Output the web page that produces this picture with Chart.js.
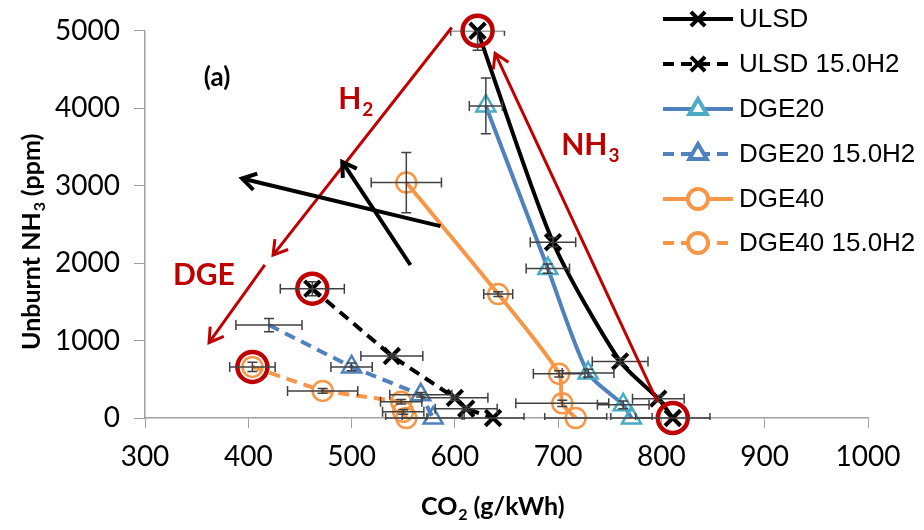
<!DOCTYPE html>
<html>
<head>
<meta charset="utf-8">
<script src="https://cdn.jsdelivr.net/npm/chart.js@4.4.1/dist/chart.umd.min.js"></script>
<style>
  html, body { margin: 0; padding: 0; background: #fff; }
  #wrap { width: 924px; height: 530px; }
</style>
</head>
<body>
<div id="wrap"><canvas id="chart" width="924" height="530"></canvas></div>
<script>
// ===============================
// DATA
// ===============================
const seriesNames = ["ULSD", "ULSD 15.0H2", "DGE20", "DGE20 15.0H2", "DGE40", "DGE40 15.0H2"];

const ulsdX = [622, 695, 760, 797, 811];
const ulsdY = [5000, 2270, 730, 250, 0];
const ulsdXErr = [26, 22, 27, 25, 36];
const ulsdYErr = [250, 60, 40, 40, 0];

const ulsdH2X = [462, 539, 600, 611, 637];
const ulsdH2Y = [1670, 800, 260, 120, 0];
const ulsdH2XErr = [31, 30, 32, 30, 30];
const ulsdH2YErr = [90, 30, 30, 30, 0];

const dge20X = [630, 690, 729, 763, 771];
const dge20Y = [4030, 1930, 580, 170, 0];
const dge20XErr = [16, 21, 25, 25, 20];
const dge20YErr = [360, 60, 50, 50, 0];

const dge20H2X = [420, 500, 567, 579];
const dge20H2Y = [1200, 660, 300, 0];
const dge20H2XErr = [32, 20, 30, 30];
const dge20H2YErr = [85, 50, 30, 0];

const dge40X = [553, 642, 701, 704, 717];
const dge40Y = [3040, 1600, 570, 190, 0];
const dge40XErr = [34, 14, 25, 45, 30];
const dge40YErr = [390, 30, 40, 40, 0];

const dge40H2X = [404, 472, 548, 550, 553];
const dge40H2Y = [660, 350, 210, 80, 0];
const dge40H2XErr = [22, 34, 20, 20, 20];
const dge40H2YErr = [60, 30, 30, 30, 0];

// points ringed in red
const ringX = [622, 462, 404, 811];
const ringY = [5000, 1670, 660, 0];

const xTicks = [300, 400, 500, 600, 700, 800, 900, 1000];
const yTicks = [0, 1000, 2000, 3000, 4000, 5000];

// ===============================
// HELPERS
// ===============================
const RED = "#c00000";
const BLACK = "#000000";
const BLUE = "#4f81bd";
const TEAL = "#4bacc6";
const ORANGE = "#f79646";

function pts(xs, ys) {
  return xs.map((x, i) => ({ x: x, y: ys[i] }));
}

function series(i, xs, ys, xErr, yErr, line, marker, dashed, markerStyle) {
  return {
    label: seriesNames[i],
    data: pts(xs, ys),
    xErr: xErr,
    yErr: yErr,
    showLine: true,
    clip: false,
    borderColor: line,
    borderWidth: 4,
    borderDash: dashed ? [11, 7] : [],
    tension: dashed ? 0 : 0.25,
    pointStyle: markerStyle,
    pointRadius: markerStyle === "circle" ? 10 : 11,
    pointBorderColor: marker,
    pointBackgroundColor: "rgba(0,0,0,0)",
    pointBorderWidth: markerStyle === "crossRot" ? 4 : 2.5,
    order: 2 + i
  };
}

// ===============================
// PLUGINS
// ===============================
const errorBars = {
  id: "errorBars",
  afterDatasetsDraw(chart) {
    const ctx = chart.ctx;
    const xs = chart.scales.x, ys = chart.scales.y;
    const area = chart.chartArea;
    ctx.save();
    ctx.beginPath();
    ctx.rect(area.left - 40, area.top, area.right - area.left + 80, area.bottom - area.top + 2);
    ctx.clip();
    ctx.strokeStyle = "#404040";
    ctx.lineWidth = 1.5;
    const cap = 5;
    chart.data.datasets.forEach(ds => {
      if (!ds.xErr) return;
      ds.data.forEach((p, i) => {
        const cx = xs.getPixelForValue(p.x), cy = ys.getPixelForValue(p.y);
        const ex = ds.xErr[i] || 0, ey = ds.yErr[i] || 0;
        if (ex) {
          const l = xs.getPixelForValue(p.x - ex), r = xs.getPixelForValue(p.x + ex);
          ctx.beginPath();
          ctx.moveTo(l, cy); ctx.lineTo(r, cy);
          ctx.moveTo(l, cy - cap); ctx.lineTo(l, cy + cap);
          ctx.moveTo(r, cy - cap); ctx.lineTo(r, cy + cap);
          ctx.stroke();
        }
        if (ey) {
          const t = ys.getPixelForValue(p.y + ey), b = ys.getPixelForValue(p.y - ey);
          ctx.beginPath();
          ctx.moveTo(cx, t); ctx.lineTo(cx, b);
          ctx.moveTo(cx - cap, t); ctx.lineTo(cx + cap, t);
          ctx.moveTo(cx - cap, b); ctx.lineTo(cx + cap, b);
          ctx.stroke();
        }
      });
    });
    ctx.restore();
  }
};

// arrows and labels, in data units
const arrows = [
  { x1: 597, y1: 5043, x2: 424, y2: 2104, color: RED, width: 3 },
  { x1: 416, y1: 1976, x2: 362, y2: 974, color: RED, width: 3 },
  { x1: 796, y1: 210, x2: 639, y2: 4708, color: RED, width: 3 },
  { x1: 586, y1: 2478, x2: 394, y2: 3093, color: BLACK, width: 4 },
  { x1: 557, y1: 1976, x2: 491, y2: 3307, color: BLACK, width: 4 }
];

const labels = [
  { x: 487, y: 3986, text: "H", sub: "2", color: RED, size: 30 },
  { x: 703, y: 3393, text: "NH", sub: "3", color: RED, size: 30 },
  { x: 327, y: 1718, text: "DGE", sub: "", color: RED, size: 30 },
  { x: 357, y: 4290, text: "(a)", sub: "", color: BLACK, size: 26 }
];

function drawSubText(ctx, x, y, text, sub, size, weight) {
  ctx.font = weight + " " + size + "px Lato";
  ctx.textAlign = "left";
  ctx.textBaseline = "alphabetic";
  ctx.fillText(text, x, y);
  const w = ctx.measureText(text).width;
  if (sub) {
    ctx.font = weight + " " + Math.round(size * 0.62) + "px Lato";
    ctx.fillText(sub, x + w + 1, y + size * 0.22);
  }
}

const annotations = {
  id: "annotations",
  afterDraw(chart) {
    const ctx = chart.ctx;
    const xs = chart.scales.x, ys = chart.scales.y;
    ctx.save();
    arrows.forEach(a => {
      const x1 = xs.getPixelForValue(a.x1), y1 = ys.getPixelForValue(a.y1);
      const x2 = xs.getPixelForValue(a.x2), y2 = ys.getPixelForValue(a.y2);
      const ang = Math.atan2(y2 - y1, x2 - x1);
      const head = 16, spread = 0.55;
      ctx.strokeStyle = a.color;
      ctx.lineWidth = a.width;
      ctx.lineCap = "butt";
      ctx.beginPath();
      ctx.moveTo(x1, y1); ctx.lineTo(x2, y2);
      ctx.stroke();
      ctx.beginPath();
      ctx.moveTo(x2 - head * Math.cos(ang - spread), y2 - head * Math.sin(ang - spread));
      ctx.lineTo(x2, y2);
      ctx.lineTo(x2 - head * Math.cos(ang + spread), y2 - head * Math.sin(ang + spread));
      ctx.stroke();
    });
    labels.forEach(l => {
      ctx.fillStyle = l.color;
      drawSubText(ctx, xs.getPixelForValue(l.x), ys.getPixelForValue(l.y), l.text, l.sub, l.size, "bold");
    });

    // axis titles
    ctx.fillStyle = "#000";
    ctx.save();
    ctx.translate(40, 350);
    ctx.rotate(-Math.PI / 2);
    ctx.font = "bold 25px Lato";
    let w1 = ctx.measureText("Unburnt NH").width;
    ctx.fillText("Unburnt NH", 0, 0);
    ctx.font = "bold 16px Lato";
    ctx.fillText("3", w1 + 1, 5);
    ctx.font = "bold 25px Lato";
    ctx.fillText(" (ppm)", w1 + 10, 0);
    ctx.restore();

    ctx.font = "bold 25px Lato";
    let w2 = ctx.measureText("CO").width;
    const tx = 421, ty = 515;
    ctx.fillText("CO", tx, ty);
    ctx.font = "bold 16px Lato";
    ctx.fillText("2", tx + w2 + 1, ty + 5);
    ctx.font = "bold 25px Lato";
    ctx.fillText(" (g/kWh)", tx + w2 + 10, ty);

    // legend
    const rows = [19, 64, 109, 154, 199, 243];
    const ds = chart.data.datasets.filter(d => seriesNames.includes(d.label));
    ds.forEach((d, i) => {
      const y = rows[i];
      ctx.strokeStyle = d.borderColor;
      ctx.lineWidth = 4;
      ctx.setLineDash(d.borderDash);
      ctx.beginPath();
      ctx.moveTo(663, y); ctx.lineTo(733, y);
      ctx.stroke();
      ctx.setLineDash([]);
      ctx.strokeStyle = d.pointBorderColor;
      ctx.fillStyle = "#fff";
      Chart.helpers.drawPoint(ctx, {
        pointStyle: d.pointStyle,
        radius: 10,
        borderWidth: d.pointBorderWidth,
        rotation: 0
      }, 698, y);
      ctx.fillStyle = "#000";
      ctx.font = "26px 'Liberation Sans'";
      ctx.textBaseline = "middle";
      ctx.fillText(d.label, 739, y + 1);
    });
    ctx.restore();
  }
};

// ===============================
// CHART
// ===============================
const datasets = [
  {
    label: "ring",
    data: pts(ringX, ringY),
    showLine: false,
    clip: false,
    pointStyle: "circle",
    pointRadius: 15,
    pointBorderColor: RED,
    pointBackgroundColor: "rgba(0,0,0,0)",
    pointBorderWidth: 4.5,
    order: 1
  },
  series(0, ulsdX, ulsdY, ulsdXErr, ulsdYErr, BLACK, BLACK, false, "crossRot"),
  series(1, ulsdH2X, ulsdH2Y, ulsdH2XErr, ulsdH2YErr, BLACK, BLACK, true, "crossRot"),
  series(2, dge20X, dge20Y, dge20XErr, dge20YErr, BLUE, TEAL, false, "triangle"),
  series(3, dge20H2X, dge20H2Y, dge20H2XErr, dge20H2YErr, BLUE, BLUE, true, "triangle"),
  series(4, dge40X, dge40Y, dge40XErr, dge40YErr, ORANGE, ORANGE, false, "circle"),
  series(5, dge40H2X, dge40H2Y, dge40H2XErr, dge40H2YErr, ORANGE, ORANGE, true, "circle")
];
// first DGE20 15.0H2 point shows only its error bars
datasets[4].pointRadius = [0, 11, 11, 11];

new Chart(document.getElementById("chart"), {
  type: "scatter",
  data: { datasets: datasets },
  options: {
    responsive: false,
    animation: false,
    layout: { padding: { top: 30, right: 56, left: 0, bottom: 0 } },
    plugins: {
      legend: { display: false },
      tooltip: { enabled: false }
    },
    scales: {
      x: {
        type: "linear",
        min: xTicks[0],
        max: xTicks[xTicks.length - 1],
        afterBuildTicks: s => { s.ticks = xTicks.map(v => ({ value: v })); },
        afterFit: s => { s.height = 112; },
        grid: { drawOnChartArea: false, drawTicks: true, tickLength: 10, color: "#a0a0a0" },
        border: { color: "#a0a0a0", width: 1.5 },
        ticks: { color: "#000", font: { family: "Lato", size: 28 }, padding: 12, callback: v => String(v) }
      },
      y: {
        type: "linear",
        min: yTicks[0],
        max: yTicks[yTicks.length - 1],
        afterBuildTicks: s => { s.ticks = yTicks.map(v => ({ value: v })); },
        afterFit: s => { s.width = 145; },
        grid: { drawOnChartArea: false, drawTicks: true, tickLength: 11, color: "#a0a0a0" },
        border: { color: "#a0a0a0", width: 1.5 },
        ticks: { color: "#000", font: { family: "Lato", size: 28 }, padding: 14, callback: v => String(v) }
      }
    }
  },
  plugins: [errorBars, annotations]
});
</script>
</body>
</html>
